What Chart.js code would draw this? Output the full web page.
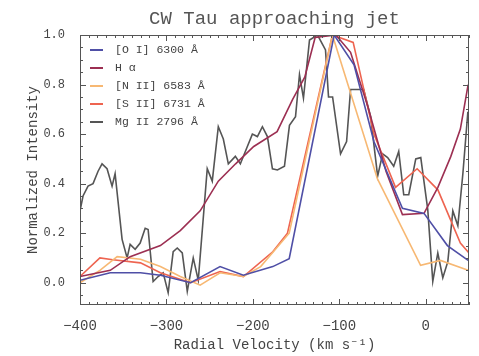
<!DOCTYPE html>
<html><head><meta charset="utf-8">
<script src="https://cdn.jsdelivr.net/npm/chart.js@4/dist/chart.umd.min.js"></script>
<style>html,body{margin:0;padding:0;background:#fff;}</style>
</head><body>
<canvas id="c" width="479" height="356"></canvas>
<script>
// ---- data ----
const titleText = "CW Tau approaching jet";
const xTitle = "Radial Velocity (km s\u207B\u00B9)";
const yTitle = "Normalized Intensity";
const xTickValues = [-400, -300, -200, -100, 0];
const yTickValues = [0.0, 0.2, 0.4, 0.6, 0.8, 1.0];

const seriesNames = ["[O I] 6300 \u00C5", "H \u03B1", "[N II] 6583 \u00C5", "[S II] 6731 \u00C5", "Mg II 2796 \u00C5"];
const seriesColors = ["#4f4fa6", "#9c2f52", "#f7b873", "#ee6450", "#555555"];

const oiVel = [-400,-365,-330,-307,-272,-238,-211,-177,-158,-106,-83,-60,-27,-2,25,49];
const oiVal = [0.01,0.04,0.04,0.03,0.0,0.065,0.03,0.065,0.097,1.0,0.88,0.57,0.30,0.28,0.15,0.09];

const haVel = [-400,-365,-342,-307,-284,-261,-240,-220,-199,-172,-154,-140,-128,-104,-87,-67,-46,-27,-2,14,29,40,49];
const haVal = [0.025,0.05,0.105,0.15,0.21,0.29,0.41,0.48,0.55,0.61,0.74,0.83,0.99,1.0,0.93,0.71,0.45,0.275,0.28,0.385,0.51,0.62,0.8];

const niiVel = [-400,-377,-357,-330,-307,-284,-261,-238,-211,-191,-158,-108,-56,-6,17,49];
const niiVal = [0.0,0.05,0.105,0.095,0.065,0.025,-0.01,0.04,0.025,0.065,0.2,1.0,0.42,0.07,0.09,0.05];

const siiVel = [-400,-377,-362,-330,-307,-272,-238,-211,-177,-160,-108,-84,-60,-35,-10,14,40,50];
const siiVal = [0.025,0.1,0.093,0.08,0.04,0.0,0.045,0.025,0.125,0.2,1.0,0.97,0.6,0.385,0.46,0.375,0.16,0.12];

const mgVel = [-400,-396.5,-390.7,-384.9,-379.1,-374.5,-368.7,-362.9,-359.4,-351.3,-345.5,-342,-336.2,-330.4,-324.6,-321.2,-315.4,-309.6,-303.8,-298,-292.2,-287.5,-281.7,-275.9,-269,-263.2,-252.8,-247,-240,-234.2,-228.4,-220.3,-214.5,-206.4,-200.6,-194.8,-189,-183.2,-177.4,-171.6,-163.5,-157.7,-150.7,-146.1,-141.5,-134.5,-125.2,-116,-112.5,-107.8,-98.6,-91.6,-87,-71.9,-63.8,-55.7,-49.9,-44.1,-37.1,-31.3,-25.5,-19.7,-11.6,-5.8,2.3,8.1,13.9,19.7,25.5,31.3,37.1,42.9,48.7];
const mgVal = [0.29,0.35,0.39,0.40,0.45,0.48,0.46,0.39,0.44,0.175,0.10,0.155,0.135,0.16,0.22,0.215,0.005,0.025,0.04,-0.04,0.125,0.14,0.12,-0.035,0.10,0.01,0.46,0.41,0.63,0.58,0.48,0.51,0.48,0.55,0.6,0.59,0.63,0.59,0.46,0.455,0.47,0.635,0.67,0.84,0.745,0.98,1.0,0.94,0.75,0.75,0.52,0.57,0.78,0.78,0.67,0.43,0.52,0.505,0.47,0.53,0.355,0.355,0.5,0.505,0.295,0.005,0.12,0.02,0.085,0.29,0.23,0.44,0.69];

const X_MIN = -400, X_MAX = 50, Y_MIN = -0.09, Y_MAX = 1.0;
// ---- end data ----

function pts(xs, ys) { return xs.map((x, i) => ({x: x, y: ys[i]})); }
const allVel = [oiVel, haVel, niiVel, siiVel, mgVel];
const allVal = [oiVal, haVal, niiVal, siiVal, mgVal];

const TEXT = "#444";
const FONT = "'Liberation Mono', 'DejaVu Sans Mono', monospace";

const datasets = seriesNames.map((name, i) => ({
  label: name,
  data: pts(allVel[i], allVal[i]),
  borderColor: seriesColors[i],
  backgroundColor: seriesColors[i],
  borderWidth: 1.6,
  pointRadius: 0,
  tension: 0,
  fill: false
}));

const framePlugin = {
  id: 'frame',
  afterDraw(chart) {
    const {ctx, chartArea: a, scales: {x, y}} = chart;
    ctx.save();
    ctx.strokeStyle = '#555';
    ctx.lineWidth = 1;
    ctx.strokeRect(a.left + 0.5, a.top + 0.5, a.right - a.left - 1, a.bottom - a.top - 1);
    ctx.beginPath();
    for (let v = X_MIN; v <= X_MAX + 1e-6; v += 10) {
      const px = Math.round(x.getPixelForValue(v)) + 0.5;
      const len = (Math.abs(v % 100) < 1e-6) ? 6 : 3;
      ctx.moveTo(px, a.bottom); ctx.lineTo(px, a.bottom - len);
      ctx.moveTo(px, a.top); ctx.lineTo(px, a.top + len);
    }
    for (let k = -1; k <= 20; k++) {
      const v = k * 0.05;
      if (v < Y_MIN - 1e-9 || v > Y_MAX + 1e-9) continue;
      const py = Math.round(y.getPixelForValue(v)) + 0.5;
      const len = (k % 4 === 0) ? 6 : 3;
      ctx.moveTo(a.left, py); ctx.lineTo(a.left + len, py);
      ctx.moveTo(a.right, py); ctx.lineTo(a.right - len, py);
    }
    ctx.stroke();

    // legend inside the plot
    const rows = chart.data.datasets;
    const x0 = a.left + 10, x1 = a.left + 23, tx = a.left + 35;
    let ty = a.top + 15;
    ctx.font = "11.5px " + FONT;
    ctx.textBaseline = 'middle';
    ctx.textAlign = 'left';
    rows.forEach(ds => {
      ctx.strokeStyle = ds.borderColor;
      ctx.lineWidth = 2;
      ctx.beginPath(); ctx.moveTo(x0, ty); ctx.lineTo(x1, ty); ctx.stroke();
      ctx.fillStyle = TEXT;
      ctx.fillText(ds.label, tx, ty);
      ty += 18;
    });
    ctx.restore();
  }
};

new Chart(document.getElementById('c'), {
  type: 'line',
  data: { datasets },
  options: {
    responsive: false,
    devicePixelRatio: 1,
    animation: false,
    layout: { padding: { left: 0, right: 10, top: 0, bottom: 0 } },
    plugins: {
      legend: { display: false },
      tooltip: { enabled: false },
      title: {
        display: true, text: titleText, fullSize: false, color: '#555',
        font: { family: FONT, size: 19, weight: 'normal', lineHeight: 1.2 },
        padding: { top: 8, bottom: 4.2 }
      }
    },
    scales: {
      x: {
        type: 'linear', min: X_MIN, max: X_MAX,
        afterFit(s) { s.height = 51; },
        afterBuildTicks(s) { s.ticks = xTickValues.map(v => ({value: v})); },
        ticks: {
          color: TEXT, padding: 5, maxRotation: 0, includeBounds: false,
          font: { family: FONT, size: 14 },
          callback: v => (v < 0 ? '\u2212' + Math.abs(v) : String(v))
        },
        grid: { display: false },
        border: { display: false },
        title: {
          display: true, text: xTitle, color: TEXT,
          font: { family: FONT, size: 14, lineHeight: 1.2 },
          padding: { top: 0, bottom: 2.5 }
        }
      },
      y: {
        type: 'linear', min: Y_MIN, max: Y_MAX,
        afterFit(s) { s.width = 80; },
        afterBuildTicks(s) { s.ticks = yTickValues.map(v => ({value: v})); },
        ticks: {
          color: TEXT, padding: 7, includeBounds: false,
          font: { family: FONT, size: 12 },
          callback: v => Number(v).toFixed(1)
        },
        grid: { display: false },
        border: { display: false },
        title: {
          display: true, text: yTitle, color: TEXT,
          font: { family: FONT, size: 14, lineHeight: 1.2 },
          padding: { top: 25, bottom: 0 }
        }
      }
    }
  },
  plugins: [framePlugin]
});
</script>
</body></html>
